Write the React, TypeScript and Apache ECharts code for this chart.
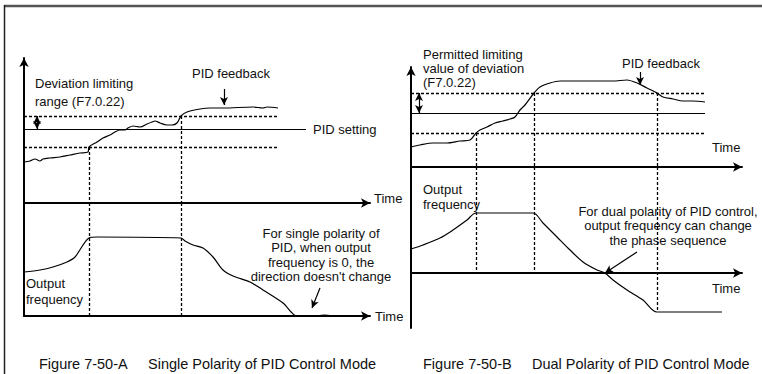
import React, { useEffect, useRef } from "react";
import * as echarts from "echarts";

// ---------- data (time units, signal units) ----------
// Figure A (single polarity)
const leftFeedback: [number, number][] = [
  [0, 41], [6, 42], [11, 44], [16, 42], [19, 44], [26, 45], [36, 46], [46, 48], [56, 50],
  [64, 51], [65, 56], [73, 61], [79, 65], [86, 68], [91, 71], [96, 73], [101, 73], [104, 75],
  [109, 77], [116, 76], [123, 79], [128, 81], [131, 82], [136, 80], [143, 78], [148, 78],
  [153, 80], [157, 87], [163, 91], [176, 94], [186, 95], [199, 95], [229, 96], [239, 95],
  [243, 96], [254, 95],
];
const leftOutput: [number, number][] = [
  [0, 44], [16, 46], [29, 49], [43, 54], [51, 59], [65, 78], [73, 79], [157, 78], [161, 75],
  [169, 71], [179, 68], [189, 59], [199, 46], [209, 40], [226, 34], [239, 26], [259, 13],
  [273, 0], [290, 0], [300, 1], [309, 0],
];
const leftBand = [56, 74, 87]; // lower limit, PID setting, upper limit
const leftSwitchTimes = [65, 157];

// Figure B (dual polarity)
const rightFeedback: [number, number][] = [
  [0, 20], [9, 22], [22, 24], [36, 24], [49, 26], [59, 27], [65, 34], [69, 37], [76, 40],
  [84, 44], [92, 46], [99, 48], [104, 50], [109, 57], [114, 62], [123, 74], [129, 80],
  [139, 84], [149, 86], [169, 86], [202, 86], [216, 87], [226, 84], [236, 79], [246, 74],
  [252, 70], [262, 68], [272, 66], [282, 66], [294, 65],
];
const rightOutput: [number, number][] = [
  [0, 24], [12, 28], [29, 35], [42, 43], [56, 53], [65, 60], [122, 60], [132, 50], [146, 36],
  [159, 23], [172, 11], [186, 3], [194, 0], [202, -7], [216, -17], [232, -27], [246, -39],
  [311, -39],
];
const rightBand = [34, 54, 74];
const rightSwitchTimes = [65, 123, 246];

const leftCaption = ["Figure 7-50-A", "Single Polarity of PID Control Mode"];
const rightCaption = ["Figure 7-50-B", "Dual Polarity of PID Control Mode"];
const leftNote = ["For single polarity of", "PID, when output", "frequency is 0, the", "direction doesn't change"];
const rightNote = ["For dual polarity of PID control,", "output frequency can change", "the phase sequence"];

const FONT = '"Liberation Sans", Arial, Helvetica, sans-serif';
const BLACK = "#000";

function seg(a: number[], b: number[], opts: any = {}) {
  const ls = opts.lineStyle || { type: [3, 2], width: 1.3, color: BLACK };
  return [
    { coord: a, symbol: opts.startArrow ? "arrow" : "none", symbolSize: [6, 8], lineStyle: ls },
    { coord: b, symbol: opts.endArrow ? "arrow" : "none", symbolSize: [6, 8], lineStyle: ls },
  ];
}
const solid = { type: "solid", width: 1.2, color: BLACK };

function txt(x: number, y: number, text: string, size = 13, align = "left") {
  return {
    type: "text",
    x,
    y,
    silent: true,
    style: {
      text,
      fill: "#111",
      fontSize: size,
      fontFamily: FONT,
      textAlign: align,
      align,
      textVerticalAlign: "middle",
      verticalAlign: "middle",
    },
  };
}

function axisPair(idx: number, arrowX: boolean, arrowY: boolean, min: number, max: number, xmax: number) {
  const axLine = (arrow: boolean) => ({
    show: true,
    symbol: arrow ? ["none", "arrow"] : ["none", "none"],
    symbolSize: [7, 9],
    lineStyle: { color: BLACK, width: 2 },
  });
  return {
    x: {
      type: "value", gridIndex: idx, min: 0, max: xmax,
      axisLine: axLine(arrowX), axisTick: { show: false }, axisLabel: { show: false }, splitLine: { show: false },
    },
    y: {
      type: "value", gridIndex: idx, min, max,
      axisLine: { ...axLine(arrowY), onZero: false }, axisTick: { show: false }, axisLabel: { show: false }, splitLine: { show: false },
    },
  };
}

function curve(idx: number, data: [number, number][], markData: any[]) {
  return {
    type: "line",
    xAxisIndex: idx,
    yAxisIndex: idx,
    data,
    showSymbol: false,
    smooth: 0.3,
    silent: true,
    lineStyle: { color: BLACK, width: 1.2 },
    markLine: {
      silent: true,
      symbol: ["none", "none"],
      label: { show: false },
      emphasis: { disabled: true },
      data: markData,
    },
  };
}

export default function App() {
  const ref = useRef<HTMLDivElement>(null);
  useEffect(() => {
    if (!ref.current) return;
    const chart = echarts.init(ref.current, undefined, { renderer: "svg" });

    const a1 = axisPair(0, true, true, 0, 145, 346);
    const a2 = axisPair(1, true, false, 0, 113, 346);
    const b1 = axisPair(2, true, true, 0, 100, 331);
    const b2 = axisPair(3, true, false, -55, 106, 331);
    b2.x.axisLine = { ...b2.x.axisLine, onZero: true } as any;

    const [lLow, lSet, lUp] = leftBand;
    const [rLow, rSet, rUp] = rightBand;

    const markA1 = [
      seg([0, lUp], [254, lUp]),
      seg([0, lLow], [254, lLow]),
      seg([0, lSet], [282, lSet], { lineStyle: solid }),
      seg([leftSwitchTimes[0], lLow], [leftSwitchTimes[0], 0]),
      seg([leftSwitchTimes[1], lUp], [leftSwitchTimes[1], 0]),
      seg([200, 114], [200, 98], { lineStyle: solid, endArrow: true }),
      seg([13, lUp], [13, lSet], { lineStyle: solid, startArrow: true, endArrow: true }),
    ];
    const markA2 = [
      seg([leftSwitchTimes[0], 113], [leftSwitchTimes[0], 0]),
      seg([leftSwitchTimes[1], 113], [leftSwitchTimes[1], 0]),
      seg([296, 28], [288, 8], { lineStyle: solid, endArrow: true }),
    ];
    const markB1 = [
      seg([0, rUp], [294, rUp]),
      seg([0, rLow], [294, rLow]),
      seg([0, rSet], [294, rSet], { lineStyle: solid }),
      seg([rightSwitchTimes[0], rLow], [rightSwitchTimes[0], 0]),
      seg([rightSwitchTimes[1], rUp], [rightSwitchTimes[1], 0]),
      seg([rightSwitchTimes[2], rUp], [rightSwitchTimes[2], 0]),
      seg([229, 95], [229, 82], { lineStyle: solid, endArrow: true }),
      seg([8, rUp], [8, rSet], { lineStyle: solid, startArrow: true, endArrow: true }),
    ];
    const markB2 = [
      seg([rightSwitchTimes[0], 106], [rightSwitchTimes[0], 0]),
      seg([rightSwitchTimes[1], 106], [rightSwitchTimes[1], 0]),
      seg([rightSwitchTimes[2], 106], [rightSwitchTimes[2], -39]),
      seg([226, 21], [194, 0], { lineStyle: solid, endArrow: true }),
    ];

    const graphics: any[] = [
      { type: "line", silent: true, shape: { x1: 4, y1: 6, x2: 762, y2: 6 }, style: { stroke: "#555", lineWidth: 2.5 } },
      { type: "line", silent: true, shape: { x1: 4.5, y1: 5, x2: 4.5, y2: 374 }, style: { stroke: "#222", lineWidth: 1.5 } },
      // left labels
      txt(35, 83, "Deviation limiting"),
      txt(35, 101, "range (F7.0.22)"),
      txt(192, 73, "PID feedback"),
      txt(313, 129, "PID setting"),
      txt(374, 198, "Time"),
      txt(26, 283, "Output"),
      txt(26, 299, "frequency"),
      txt(375, 316, "Time"),
      ...leftNote.map((t, i) => txt(321, 233 + i * 14.5, t, 13, "center")),
      txt(39, 364, leftCaption[0], 14.5),
      txt(148, 364, leftCaption[1], 14.5),
      // right labels
      txt(423, 54, "Permitted limiting"),
      txt(423, 68, "value of deviation"),
      txt(423, 82, "(F7.0.22)"),
      txt(622, 63, "PID feedback"),
      txt(712, 147, "Time"),
      txt(423, 189, "Output"),
      txt(423, 204, "frequency"),
      txt(712, 288, "Time"),
      ...rightNote.map((t, i) => txt(668, 211 + i * 14.5, t, 13, "center")),
      txt(423, 364, rightCaption[0], 14.5),
      txt(532, 364, rightCaption[1], 14.5),
    ];

    chart.setOption({
      animation: false,
      backgroundColor: "#fff",
      grid: [
        { left: 24, top: 58, width: 346, height: 145 },
        { left: 24, top: 203, width: 346, height: 113 },
        { left: 411, top: 67, width: 331, height: 100 },
        { left: 411, top: 167, width: 331, height: 161 },
      ],
      xAxis: [a1.x, a2.x, b1.x, b2.x],
      yAxis: [a1.y, a2.y, b1.y, b2.y],
      series: [
        curve(0, leftFeedback, markA1),
        curve(1, leftOutput, markA2),
        curve(2, rightFeedback, markB1),
        curve(3, rightOutput, markB2),
      ],
      graphic: graphics,
    });
    return () => chart.dispose();
  }, []);
  return (
    <div
      ref={ref}
      style={{ position: "fixed", left: 0, top: 0, width: 762, height: 374, background: "#fff" }}
    />
  );
}
